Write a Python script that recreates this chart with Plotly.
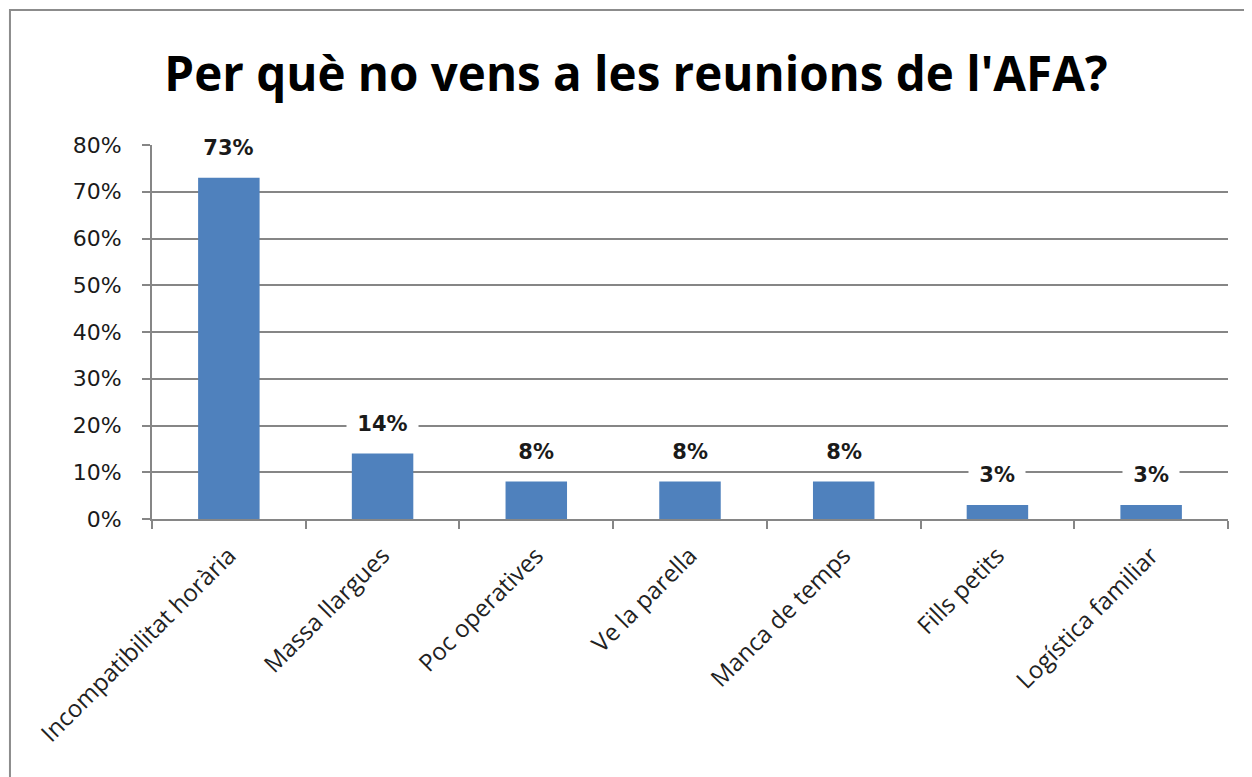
import plotly.graph_objects as go

categories = ["Incompatibilitat horària", "Massa llargues", "Poc operatives",
              "Ve la parella", "Manca de temps", "Fills petits", "Logística familiar"]
values = [0.73, 0.14, 0.08, 0.08, 0.08, 0.03, 0.03]
value_labels = ["73%", "14%", "8%", "8%", "8%", "3%", "3%"]
title_text = "Per què no vens a les reunions de l'AFA?"

title_font = "Open Sans, DejaVu Sans, sans-serif"
tick_font = "DejaVu Sans, Verdana, sans-serif"
cat_font = "Open Sans, DejaVu Sans, sans-serif"
grid_color = "#868686"
NB = "\u00a0"

fig = go.Figure()
fig.add_trace(go.Bar(
    x=categories, y=values,
    marker=dict(color="#4F81BD", line=dict(width=0)),
    width=0.4,
    hoverinfo="x+y",
))

for c, v, t in zip(categories, values, value_labels):
    fig.add_annotation(
        x=c, y=v, text="<b>" + NB + t + NB + "</b>", showarrow=False,
        yanchor="bottom", yshift=14, bgcolor="white",
        font=dict(family=tick_font, size=21, color="#1a1a1a"),
        borderpad=3,
    )

# page has an 8px body margin; compensate so the plot area sits where the reference's does
fig.update_layout(
    width=1252, height=777,
    paper_bgcolor="white", plot_bgcolor="white",
    margin=dict(l=144, r=32, t=137, b=266),
    showlegend=False,
    title=dict(
        text="<b>" + title_text + "</b>",
        x=0.5016, xanchor="center", y=0.914, yanchor="middle",
        font=dict(family=title_font, size=47.5, color="black"),
    ),
    bargap=0.6,
)

fig.update_xaxes(
    type="category",
    showline=True, linecolor=grid_color, linewidth=2,
    ticks="outside", tickson="boundaries", ticklen=8, tickcolor=grid_color, tickwidth=2,
    tickangle=-45, ticklabelstandoff=11,
    tickfont=dict(family=cat_font, size=24, color="#222222"),
    showgrid=False,
)
fig.update_yaxes(
    range=[0, 0.8], dtick=0.1, tickformat=".0%",
    showline=True, linecolor=grid_color, linewidth=2,
    ticks="outside", ticklen=8, tickcolor=grid_color, tickwidth=2,
    ticklabelstandoff=16,
    showgrid=True, gridcolor=grid_color, gridwidth=1.5,
    zeroline=False,
    tickfont=dict(family=tick_font, size=22, color="#1a1a1a"),
)

# outer chart border (right and bottom edges fall outside the picture, as in the reference)
fig.add_shape(
    type="rect", xref="paper", yref="paper",
    x0=-0.132, x1=1.2, y0=-0.75, y1=1.361,
    line=dict(color="#8c8c8c", width=2), fillcolor="rgba(0,0,0,0)",
    layer="below",
)

fig.write_html("out.html")
